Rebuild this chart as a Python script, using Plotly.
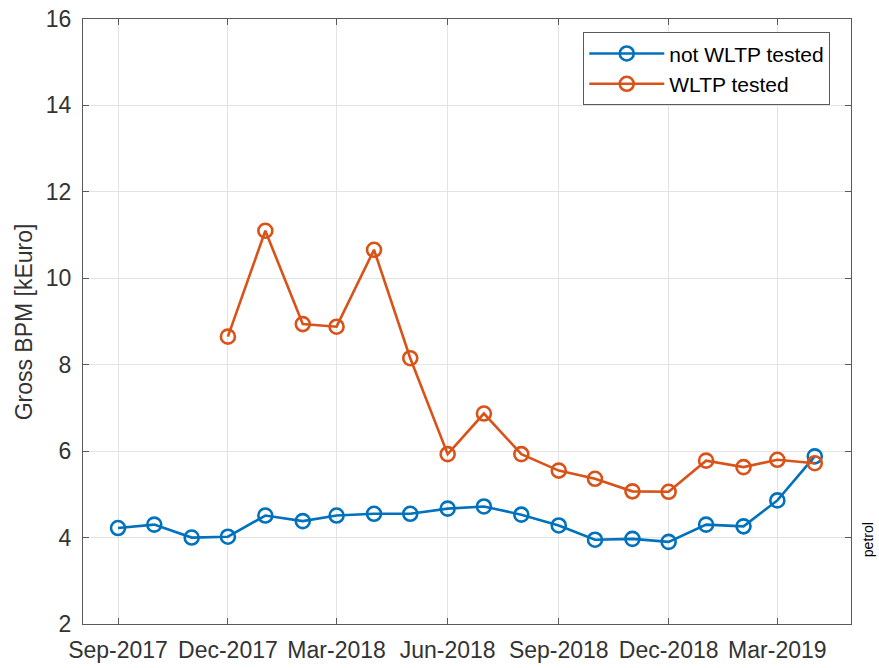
import plotly.graph_objects as go

months_blue = ["2017-09-01", "2017-10-01", "2017-11-01", "2017-12-01", "2018-01-01",
               "2018-02-01", "2018-03-01", "2018-04-01", "2018-05-01", "2018-06-01",
               "2018-07-01", "2018-08-01", "2018-09-01", "2018-10-01", "2018-11-01",
               "2018-12-01", "2019-01-01", "2019-02-01", "2019-03-01", "2019-04-01"]
not_wltp = [4.22, 4.30, 4.00, 4.02, 4.51, 4.38, 4.51, 4.55, 4.55, 4.67,
            4.72, 4.53, 4.28, 3.95, 3.97, 3.90, 4.30, 4.26, 4.86, 5.88]

months_orange = months_blue[3:]
wltp = [8.65, 11.10, 8.94, 8.88, 10.66, 8.15, 5.93, 6.87, 5.93, 5.55,
        5.36, 5.07, 5.06, 5.78, 5.63, 5.80, 5.72]

tick_vals = ["2017-09-01", "2017-12-01", "2018-03-01", "2018-06-01",
             "2018-09-01", "2018-12-01", "2019-03-01"]
tick_text = ["Sep-2017", "Dec-2017", "Mar-2018", "Jun-2018",
             "Sep-2018", "Dec-2018", "Mar-2019"]

BLUE = "#0072BD"
ORANGE = "#D95319"
FONT = "Liberation Sans, Arial, sans-serif"
TXT = "#333333"

fig = go.Figure()
fig.add_trace(go.Scatter(
    x=months_blue, y=not_wltp, name="not WLTP tested", mode="lines+markers",
    line=dict(color=BLUE, width=2.6),
    marker=dict(symbol="circle-open", size=14, color=BLUE, line=dict(width=2.6)),
))
fig.add_trace(go.Scatter(
    x=months_orange, y=wltp, name="WLTP tested", mode="lines+markers",
    line=dict(color=ORANGE, width=2.6),
    marker=dict(symbol="circle-open", size=14, color=ORANGE, line=dict(width=2.6)),
))

axis_common = dict(
    showline=True, linecolor="#5a5a5a", linewidth=1, mirror="ticks",
    ticks="inside", ticklen=6, tickcolor="#5a5a5a",
    showgrid=True, gridcolor="#e3e3e3", gridwidth=1, zeroline=False,
    tickfont=dict(family=FONT, size=23, color=TXT),
)

fig.update_xaxes(
    type="date", range=["2017-08-03", "2019-05-01"],
    tickvals=tick_vals, ticktext=tick_text, ticklabelstandoff=5, **axis_common,
)
fig.update_yaxes(range=[2, 16], dtick=2, ticklabelstandoff=6, **axis_common)

fig.add_annotation(
    text="Gross BPM [kEuro]", xref="paper", yref="paper", x=-0.077, y=0.5,
    showarrow=False, textangle=-90, font=dict(family=FONT, size=23, color=TXT),
    xanchor="center", yanchor="middle",
)
fig.add_annotation(
    text="petrol", xref="paper", yref="paper", x=1.022, y=0.14,
    showarrow=False, textangle=-90, font=dict(family=FONT, size=14, color="#000000"),
    xanchor="center", yanchor="middle",
)

fig.update_layout(
    width=879, height=668,
    margin=dict(l=83, r=28, t=19, b=44, autoexpand=False),
    plot_bgcolor="white", paper_bgcolor="white",
    font=dict(family=FONT, color=TXT),
    legend=dict(
        x=0.973, y=0.978, xanchor="right", yanchor="top",
        bordercolor="#5a5a5a", borderwidth=1, bgcolor="white",
        font=dict(family=FONT, size=21, color="#000000"),
        itemwidth=75, tracegroupgap=0,
    ),
    showlegend=True,
)

fig.write_html("out.html", config={"displayModeBar": False},
               post_script="document.body.style.margin='0';document.body.style.padding='0';")
